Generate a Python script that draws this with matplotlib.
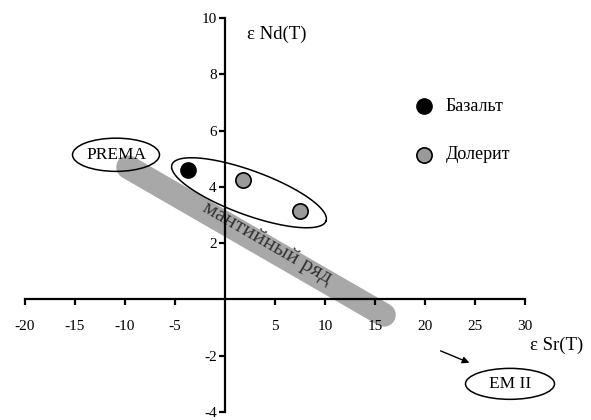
import numpy as np
import matplotlib.pyplot as plt
from matplotlib.patches import Ellipse

plt.rcParams['font.family'] = ['Liberation Serif', 'DejaVu Serif']
plt.rcParams['axes.unicode_minus'] = False

# точки (eSr, eNd)
basalt_sr = [-3.7]
basalt_nd = [4.6]
dolerite_sr = [1.8, 7.5]
dolerite_nd = [4.25, 3.15]

# мантийный ряд
mantle_sr = [-9.7, 15.9]
mantle_nd = [4.7, -0.55]

xticks = [-20, -15, -10, -5, 5, 10, 15, 20, 25, 30]
yticks = [-4, -2, 2, 4, 6, 8, 10]

fig = plt.figure(figsize=(5.91, 4.2), dpi=100)
ax = fig.add_axes([25 / 591, 8 / 420, 500 / 591, 394 / 420])
ax.set_xlim(-20, 30)
ax.set_ylim(-4, 10)

for s in ['top', 'right']:
    ax.spines[s].set_visible(False)
ax.spines['left'].set_position(('data', 0))
ax.spines['bottom'].set_position(('data', 0))
ax.spines['left'].set_linewidth(1.6)
ax.spines['bottom'].set_linewidth(1.6)

ax.set_xticks(xticks)
ax.set_yticks(yticks)
ax.tick_params(axis='x', direction='out', length=4, width=1.6, pad=11, labelsize=11)
ax.tick_params(axis='y', direction='out', length=4, width=1.6, pad=2, labelsize=11)

ax.plot(mantle_sr, mantle_nd, color='#a8a8a8', lw=17, solid_capstyle='round',
        zorder=1, clip_on=False)
ax.text(4.2, 2.0, 'мантийный ряд', rotation=-30, ha='center', va='center',
        fontsize=16, color='#333333', zorder=2)

ax.plot(basalt_sr, basalt_nd, 'o', color='black', ms=11, mec='black', zorder=5)
ax.plot(dolerite_sr, dolerite_nd, 'o', color='#9a9a9a', ms=11, mec='black',
        mew=1.2, zorder=5)

# овал вокруг точек (в пикселях: 10 px на ед. Sr, 28 px на ед. Nd)
t = np.linspace(0, 2 * np.pi, 200)
a, b, ang = 82, 22, np.deg2rad(20)
px = a * np.cos(t) * np.cos(ang) - b * np.sin(t) * np.sin(ang)
py = a * np.cos(t) * np.sin(ang) + b * np.sin(t) * np.cos(ang)
ax.plot(2.4 + px / 10, 3.79 - py / 28, color='black', lw=1.1, zorder=4)

ax.add_patch(Ellipse((-10.9, 5.14), 8.7, 1.18, fill=False, ec='black', lw=1.1,
                     zorder=3))
ax.text(-10.9, 5.14, 'PREMA', ha='center', va='center', fontsize=12.5, zorder=4)
ax.add_patch(Ellipse((28.5, -3.0), 8.9, 1.1, fill=False, ec='black', lw=1.1,
                     clip_on=False))
ax.text(28.5, -3.0, 'EM II', ha='center', va='center', fontsize=12.5)
ax.annotate('', xy=(24.7, -2.29), xytext=(21.3, -1.79),
            arrowprops=dict(arrowstyle='-|>', color='black', lw=1, mutation_scale=10))

ax.text(5.2, 9.43, 'ε Nd(T)', ha='center', va='center', fontsize=13.5)
ax.text(33.2, -1.64, 'ε Sr(T)', ha='center', va='center', fontsize=13.5, clip_on=False)

# легенда
ax.plot([19.9], [6.86], 'o', color='black', ms=11, mec='black')
ax.plot([19.9], [5.14], 'o', color='#9a9a9a', ms=11, mec='black', mew=1.2)
ax.text(22.1, 6.86, 'Базальт', va='center', fontsize=13)
ax.text(22.1, 5.14, 'Долерит', va='center', fontsize=13)

fig.savefig('out.png', dpi=100)
